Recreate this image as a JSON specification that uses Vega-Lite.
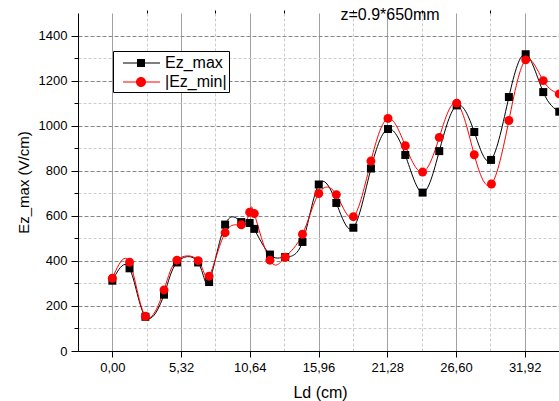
{
  "$schema": "https://vega.github.io/schema/vega-lite/v6.json",
  "width": 481,
  "height": 338,
  "autosize": {"type": "none"},
  "padding": {"left": 78, "top": 13, "right": 0, "bottom": 50},
  "background": "white",
  "config": {
    "font": "Liberation Sans",
    "view": {"stroke": null},
    "axis": {"labelColor": "black", "titleColor": "black", "tickColor": "black", "domainColor": "black", "titleFontWeight": "normal", "labelFont": "Liberation Sans", "titleFont": "Liberation Sans"},
    "legend": {
      "orient": "none",
      "legendX": 35,
      "legendY": 38,
      "strokeColor": "black",
      "fillColor": "white",
      "padding": 2,
      "rowPadding": 1,
      "labelFontSize": 16,
      "labelFont": "Liberation Sans",
      "labelColor": "black",
      "labelOffset": 30,
      "symbolSize": 400,
      "symbolStrokeWidth": 0
    }
  },
  "datasets": {
    "main": [
      {"Ld": 0.0, "E": 312, "series": "Ez_max"},
      {"Ld": 1.33, "E": 367, "series": "Ez_max"},
      {"Ld": 2.56, "E": 152, "series": "Ez_max"},
      {"Ld": 4.0, "E": 250, "series": "Ez_max"},
      {"Ld": 5.0, "E": 393, "series": "Ez_max"},
      {"Ld": 6.64, "E": 393, "series": "Ez_max"},
      {"Ld": 7.49, "E": 306, "series": "Ez_max"},
      {"Ld": 8.73, "E": 561, "series": "Ez_max"},
      {"Ld": 9.98, "E": 572, "series": "Ez_max"},
      {"Ld": 10.63, "E": 568, "series": "Ez_max"},
      {"Ld": 10.99, "E": 542, "series": "Ez_max"},
      {"Ld": 12.2, "E": 428, "series": "Ez_max"},
      {"Ld": 13.38, "E": 417, "series": "Ez_max"},
      {"Ld": 14.72, "E": 484, "series": "Ez_max"},
      {"Ld": 15.98, "E": 739, "series": "Ez_max"},
      {"Ld": 17.34, "E": 657, "series": "Ez_max"},
      {"Ld": 18.66, "E": 547, "series": "Ez_max"},
      {"Ld": 20.02, "E": 810, "series": "Ez_max"},
      {"Ld": 21.34, "E": 985, "series": "Ez_max"},
      {"Ld": 22.68, "E": 870, "series": "Ez_max"},
      {"Ld": 24.02, "E": 703, "series": "Ez_max"},
      {"Ld": 25.31, "E": 887, "series": "Ez_max"},
      {"Ld": 26.66, "E": 1090, "series": "Ez_max"},
      {"Ld": 28.02, "E": 972, "series": "Ez_max"},
      {"Ld": 29.32, "E": 848, "series": "Ez_max"},
      {"Ld": 30.7, "E": 1127, "series": "Ez_max"},
      {"Ld": 32.0, "E": 1317, "series": "Ez_max"},
      {"Ld": 33.36, "E": 1149, "series": "Ez_max"},
      {"Ld": 34.6, "E": 1062, "series": "Ez_max"},
      {"Ld": 0.0, "E": 323, "series": "|Ez_min|"},
      {"Ld": 1.33, "E": 394, "series": "|Ez_min|"},
      {"Ld": 2.56, "E": 154, "series": "|Ez_min|"},
      {"Ld": 4.0, "E": 271, "series": "|Ez_min|"},
      {"Ld": 5.0, "E": 403, "series": "|Ez_min|"},
      {"Ld": 6.64, "E": 401, "series": "|Ez_min|"},
      {"Ld": 7.49, "E": 332, "series": "|Ez_min|"},
      {"Ld": 8.73, "E": 525, "series": "|Ez_min|"},
      {"Ld": 9.98, "E": 560, "series": "|Ez_min|"},
      {"Ld": 10.63, "E": 616, "series": "|Ez_min|"},
      {"Ld": 10.99, "E": 610, "series": "|Ez_min|"},
      {"Ld": 12.2, "E": 403, "series": "|Ez_min|"},
      {"Ld": 13.38, "E": 416, "series": "|Ez_min|"},
      {"Ld": 14.72, "E": 518, "series": "|Ez_min|"},
      {"Ld": 15.98, "E": 699, "series": "|Ez_min|"},
      {"Ld": 17.34, "E": 694, "series": "|Ez_min|"},
      {"Ld": 18.66, "E": 596, "series": "|Ez_min|"},
      {"Ld": 20.02, "E": 843, "series": "|Ez_min|"},
      {"Ld": 21.34, "E": 1032, "series": "|Ez_min|"},
      {"Ld": 22.68, "E": 911, "series": "|Ez_min|"},
      {"Ld": 24.02, "E": 794, "series": "|Ez_min|"},
      {"Ld": 25.31, "E": 948, "series": "|Ez_min|"},
      {"Ld": 26.66, "E": 1100, "series": "|Ez_min|"},
      {"Ld": 28.02, "E": 871, "series": "|Ez_min|"},
      {"Ld": 29.35, "E": 741, "series": "|Ez_min|"},
      {"Ld": 30.7, "E": 1023, "series": "|Ez_min|"},
      {"Ld": 32.0, "E": 1292, "series": "|Ez_min|"},
      {"Ld": 33.36, "E": 1200, "series": "|Ez_min|"},
      {"Ld": 34.6, "E": 1141, "series": "|Ez_min|"}
    ],
    "note": [{"Ld": 21.5, "E": 1490, "label": "z=0.9*650mm"}]
  },
  "layer": [
    {
      "data": {"name": "main"},
      "mark": {"type": "line", "interpolate": "natural", "strokeWidth": 1, "clip": true},
      "encoding": {
        "x": {
          "field": "Ld", "type": "quantitative",
          "scale": {"domain": [-2.66, 34.58], "nice": false, "zero": false},
          "axis": {
            "values": [0, 5.32, 10.64, 15.96, 21.28, 26.6, 31.92],
            "labelExpr": "replace(format(datum.value, '.2f'), '.', ',')",
            "title": "Ld (cm)",
            "grid": true, "gridColor": "#a0a0a0", "gridWidth": 1,
            "tickSize": 6, "tickWidth": 1, "labelFontSize": 13, "labelPadding": 4,
            "labelFlush": false, "labelOverlap": false,
            "titleFontSize": 16, "titleX": 242, "titleY": 41, "titleBaseline": "middle", "titleAlign": "center",
            "domainWidth": 1
          }
        },
        "y": {
          "field": "E", "type": "quantitative",
          "scale": {"domain": [0, 1500], "nice": false, "zero": true},
          "axis": {
            "orient": "left",
            "values": [0, 200, 400, 600, 800, 1000, 1200, 1400],
            "format": "d",
            "title": "Ez_max (V/cm)",
            "grid": true, "gridColor": "#888888", "gridDash": [4, 2], "gridWidth": 1,
            "tickSize": 7, "tickWidth": 1, "labelFontSize": 13, "labelPadding": 4,
            "labelFlush": false, "labelOverlap": false,
            "titleFontSize": 15, "titleX": -55, "titleY": 169, "titleBaseline": "middle", "titleAlign": "center", "titleAngle": 270,
            "domainWidth": 1
          }
        },
        "color": {
          "field": "series", "type": "nominal",
          "scale": {"domain": ["Ez_max", "|Ez_min|"], "range": ["#000000", "#ff0000"]},
          "legend": null
        }
      }
    },
    {
      "data": {"name": "main"},
      "mark": {"type": "point", "filled": true, "opacity": 1, "clip": true},
      "encoding": {
        "x": {
          "field": "Ld", "type": "quantitative",
          "scale": {"domain": [-2.66, 34.58], "nice": false, "zero": false},
          "axis": {
            "values": [2.66, 7.98, 13.3, 18.62, 23.94, 29.26, 34.58],
            "labels": false, "title": null, "domain": false,
            "grid": true, "gridColor": "#cccccc", "gridDash": [3, 2], "gridWidth": 1,
            "tickSize": 3, "tickWidth": 1
          }
        },
        "y": {
          "field": "E", "type": "quantitative",
          "scale": {"domain": [0, 1500], "nice": false, "zero": true},
          "axis": {
            "orient": "left",
            "values": [100, 300, 500, 700, 900, 1100, 1300],
            "labels": false, "title": null, "domain": false,
            "grid": true, "gridColor": "#cccccc", "gridDash": [3, 2], "gridWidth": 1,
            "tickSize": 4, "tickWidth": 1
          }
        },
        "color": {
          "field": "series", "type": "nominal",
          "scale": {"domain": ["Ez_max", "|Ez_min|"], "range": ["#000000", "#ff0000"]},
          "legend": null
        },
        "shape": {
          "field": "series", "type": "nominal",
          "scale": {"domain": ["Ez_max", "|Ez_min|"], "range": ["square", "circle"]},
          "legend": null
        },
        "size": {
          "field": "series", "type": "nominal",
          "scale": {"domain": ["Ez_max", "|Ez_min|"], "range": [64, 80]},
          "legend": null
        }
      }
    },
    {
      "data": {"name": "main"},
      "transform": [{"filter": "false"}],
      "mark": {"type": "point", "filled": true, "opacity": 1, "size": 400, "strokeWidth": 0},
      "encoding": {
        "x": {"field": "Ld", "type": "quantitative", "scale": {"domain": [-2.66, 34.58], "nice": false, "zero": false}, "axis": null},
        "y": {"field": "E", "type": "quantitative", "scale": {"domain": [0, 1500], "nice": false, "zero": true}, "axis": null},
        "color": {
          "field": "series", "type": "nominal",
          "scale": {"domain": ["Ez_max", "|Ez_min|"], "range": ["#000000", "#ff0000"]},
          "legend": {"title": null}
        },
        "shape": {
          "field": "series", "type": "nominal",
          "scale": {"domain": ["Ez_max", "|Ez_min|"], "range": ["M-0.2,-0.05H3.5V0.05H-0.2Z M1.2,-0.4H2V0.4H1.2Z", "M-0.2,-0.05H3.5V0.05H-0.2Z M2.1,0A0.5,0.5 0 1,1 1.1,0A0.5,0.5 0 1,1 2.1,0Z"]},
          "legend": {"title": null}
        }
      }
    },
    {
      "data": {"name": "note"},
      "mark": {"type": "text", "fontSize": 16, "font": "Liberation Sans", "align": "center", "baseline": "middle", "color": "black", "clip": false},
      "encoding": {
        "x": {"field": "Ld", "type": "quantitative", "scale": {"domain": [-2.66, 34.58], "nice": false, "zero": false}, "axis": null},
        "y": {"field": "E", "type": "quantitative", "scale": {"domain": [0, 1500], "nice": false, "zero": true}, "axis": null},
        "text": {"field": "label"}
      }
    }
  ],
  "resolve": {
    "axis": {"x": "independent", "y": "independent"},
    "scale": {"shape": "independent", "color": "independent", "size": "independent"},
    "legend": {"color": "independent", "shape": "independent"}
  }
}
